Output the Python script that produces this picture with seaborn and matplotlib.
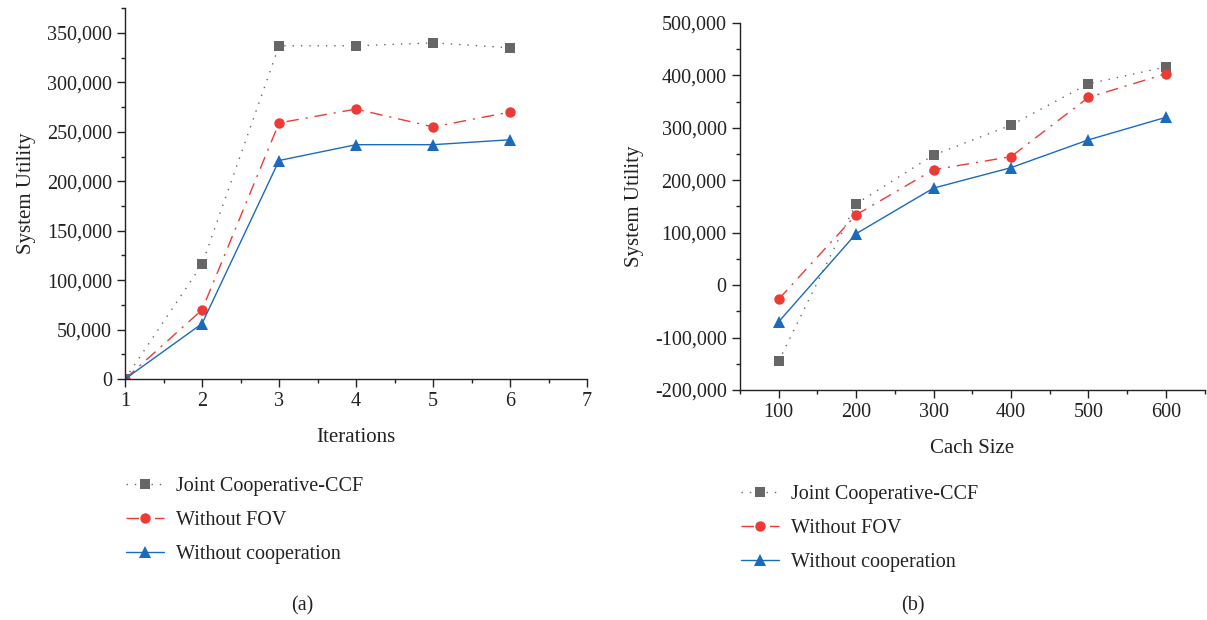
import numpy as np
import pandas as pd
import matplotlib
matplotlib.use("Agg")
import matplotlib.pyplot as plt
import seaborn as sns
from matplotlib.ticker import StrMethodFormatter, MultipleLocator

# data
iterations = [1, 2, 3, 4, 5, 6]
joint_a = [0, 116000, 337000, 337000, 340000, 335000]
nofov_a = [0, 70000, 259000, 273000, 255000, 270000]
nocoop_a = [0, 56000, 221000, 237000, 237000, 242000]

cache_size = [100, 200, 300, 400, 500, 600]
joint_b = [-145000, 155000, 248000, 305000, 384000, 416000]
nofov_b = [-27000, 134000, 220000, 245000, 358000, 403000]
nocoop_b = [-70000, 98000, 185000, 224000, 277000, 320000]

labels = ["Joint Cooperative-CCF", "Without FOV", "Without cooperation"]

sns.set_theme(style="ticks")
plt.rcParams['font.family'] = ['Liberation Serif', 'DejaVu Serif']
plt.rcParams['axes.unicode_minus'] = False
plt.rcParams['font.size'] = 14.5

FS = 14.5
styles = [
    dict(color="#666666", linestyle=(0, (1, 5)), marker="s", markersize=7),
    dict(color="#ec3b35", linestyle=(0, (9, 5, 1.5, 5)), marker="o", markersize=7.5),
    dict(color="#1a6bbd", linestyle="-", marker="^", markersize=8.5),
]

fig = plt.figure(figsize=(12.07, 6.2), dpi=100)
ax1 = fig.add_axes([0.1036, 0.3887, 0.3828, 0.598])
ax2 = fig.add_axes([0.613, 0.371, 0.385, 0.592])


def draw(ax, x, series):
    for y, lab, st in zip(series, labels, styles):
        sns.lineplot(x=x, y=y, ax=ax, label=lab, linewidth=1.0,
                     markeredgewidth=0, **st)
    sns.despine(ax=ax)
    ax.tick_params(axis="both", which="major", direction="out", length=6,
                   width=1, labelsize=FS, colors="#222222")
    ax.tick_params(axis="both", which="minor", direction="out", length=3,
                   width=1, colors="#222222")
    for s in ["left", "bottom"]:
        ax.spines[s].set_color("#222222")
        ax.spines[s].set_linewidth(1)
    ax.yaxis.set_major_formatter(StrMethodFormatter("{x:,.0f}"))
    ax.set_ylabel("System Utility", fontsize=FS + 0.5, color="#222222",
                  labelpad=8)


draw(ax1, iterations, [joint_a, nofov_a, nocoop_a])
ax1.set_xlim(1, 7)
ax1.set_ylim(0, 375000)
ax1.xaxis.set_major_locator(MultipleLocator(1))
ax1.xaxis.set_minor_locator(MultipleLocator(0.5))
ax1.yaxis.set_major_locator(MultipleLocator(50000))
ax1.yaxis.set_minor_locator(MultipleLocator(25000))
ax1.set_xlabel("Iterations", fontsize=FS + 0.5, color="#222222", labelpad=12)

draw(ax2, cache_size, [joint_b, nofov_b, nocoop_b])
ax2.set_xlim(50, 650)
ax2.set_ylim(-200000, 500000)
ax2.xaxis.set_major_locator(MultipleLocator(100))
ax2.xaxis.set_minor_locator(MultipleLocator(50))
ax2.yaxis.set_major_locator(MultipleLocator(100000))
ax2.yaxis.set_minor_locator(MultipleLocator(50000))
ax2.set_xlabel("Cach Size", fontsize=FS + 0.5, color="#222222", labelpad=12)

for ax, (lx, ly) in [(ax1, (0.089, 0.260)), (ax2, (0.599, 0.247))]:
    h, l = ax.get_legend_handles_labels()
    ax.legend(h, l, loc="upper left", bbox_to_anchor=(lx, ly),
              bbox_transform=fig.transFigure, frameon=False, fontsize=FS,
              handlelength=1.9, handletextpad=0.6, labelspacing=0.75,
              labelcolor="#222222")

fig.text(0.25, 0.016, "(a)", ha="center", fontsize=FS, color="#222222")
fig.text(0.756, 0.016, "(b)", ha="center", fontsize=FS, color="#222222")

plt.savefig("out.png", dpi=100)
